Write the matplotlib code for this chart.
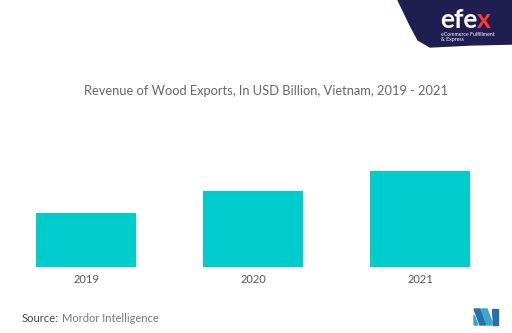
import matplotlib
matplotlib.use('Agg')

import matplotlib.pyplot as plt
from matplotlib.patches import Polygon

years = ["2019", "2020", "2021"]
revenue = [9.0, 12.7, 16.0]  # USD billion

barColor = "#00cccc"
textGray = "#555555"

plt.rcParams['font.family'] = ['Lato', 'DejaVu Sans']

fig = plt.figure(figsize=(5.12, 3.33), dpi=100)
W, H = 512.0, 333.0

# axes placed in pixel terms: x 36..470, baseline at y=267, top of tallest bar at y=171
ax = fig.add_axes([36 / W, (H - 267) / H, (470 - 36) / W, 96 / H])
x = range(len(years))
ax.bar(x, revenue, width=0.6, color=barColor)
ax.set_xlim(-0.3, 2.3)
ax.set_ylim(0, max(revenue))
ax.set_xticks(list(x))
ax.set_xticklabels(years, fontsize=8, color=textGray)
ax.tick_params(axis='x', length=0, pad=5)
ax.set_yticks([])
for s in ax.spines.values():
    s.set_visible(False)

fig.text(265.5 / W, 1 - 91 / H, "Revenue of Wood Exports, In USD Billion, Vietnam, 2019 - 2021",
         ha='center', va='center', fontsize=9.25, color="#666666")

fig.text(22 / W, 1 - 318 / H, "Source:", ha='left', va='center', fontsize=8, color="#444444")
fig.text(62 / W, 1 - 318 / H, "Mordor Intelligence", ha='left', va='center', fontsize=8, color="#777777")

# efex banner top right
over = fig.add_axes([0, 0, 1, 1], zorder=5)
over.set_xlim(0, W)
over.set_ylim(H, 0)
over.axis('off')
banner = Polygon([(398, 0), (512, 0), (512, 44), (470, 45), (430, 47), (418, 40), (410, 25)],
                 closed=True, color="#201e50")
over.add_patch(banner)
efe = over.text(440, 20, "efe", color="white", fontsize=19, fontweight='bold', va='center', ha='left')
fig.canvas.draw()
bb = efe.get_window_extent()
over.text(bb.x1, H - (bb.y0 + bb.y1) / 2, "x", color="#ff3b2f", fontsize=19, fontweight='bold',
          va='center', ha='left')
over.text(441, 35, "eCommerce Fulfillment", color="white", fontsize=3.8, va='center', ha='left')
over.text(441, 40, "& Express", color="white", fontsize=3.8, va='center', ha='left')

# Mordor logo bottom right
logo = [
    ([(474, 309), (480, 309), (486, 325), (480, 325)], "#2a6fa8"),
    ([(481, 309), (487, 309), (492, 322), (492, 325), (487, 325)], "#3aa7c9"),
    ([(474, 315), (478, 325), (474, 325)], "#3aa7c9"),
    ([(492, 309), (498, 309), (498, 325), (493, 325)], "#2a6fa8"),
]
for pts, c in logo:
    over.add_patch(Polygon(pts, closed=True, color=c))

fig.savefig("out.png", dpi=100)
